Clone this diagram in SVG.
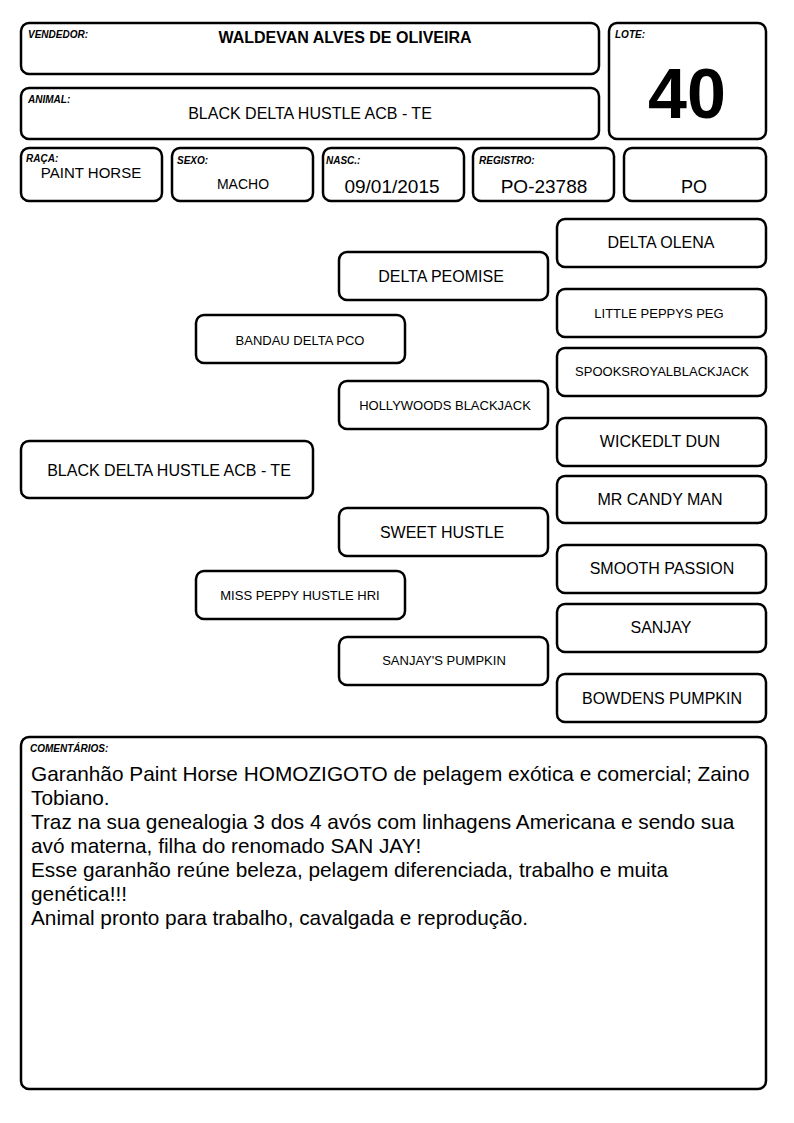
<svg xmlns="http://www.w3.org/2000/svg" width="794" height="1123" viewBox="0 0 794 1123">
<style>
.b{fill:#fff;stroke:#000;stroke-width:2.5}
.lb{font-family:"Liberation Sans",Arial,sans-serif;font-size:10px;font-weight:bold;font-style:italic;fill:#000}
.t{font-family:"Liberation Sans",Arial,sans-serif;fill:#000;text-anchor:middle}
.l{font-size:16px}
.s{font-size:13px}
.c{font-family:"Liberation Sans",Arial,sans-serif;font-size:20.8px;fill:#000}
</style>
<rect width="794" height="1123" fill="#fff"/>
<g id="vendedor"><rect class="b" x="21" y="23" width="578" height="51" rx="8"/><text class="lb" x="28" y="38">VENDEDOR:</text><text class="t" x="345" y="43" font-size="16" font-weight="bold">WALDEVAN ALVES DE OLIVEIRA</text></g>
<g id="lote"><rect class="b" x="609" y="23" width="157" height="116" rx="8"/><text class="lb" x="615" y="38">LOTE:</text><text class="t" x="687" y="118" font-size="70" font-weight="bold">40</text></g>
<g id="animal"><rect class="b" x="21" y="88" width="578" height="51" rx="8"/><text class="lb" x="28" y="103">ANIMAL:</text><text class="t l" x="310" y="119">BLACK DELTA HUSTLE ACB - TE</text></g>
<g id="raca"><rect class="b" x="21" y="148" width="141" height="53" rx="8"/><text class="lb" x="26" y="162">RAÇA:</text><text class="t" x="91" y="178" font-size="15">PAINT HORSE</text></g>
<g id="sexo"><rect class="b" x="172" y="148" width="141" height="53" rx="8"/><text class="lb" x="177" y="164">SEXO:</text><text class="t" x="243" y="189" font-size="14">MACHO</text></g>
<g id="nasc"><rect class="b" x="323" y="148" width="141" height="53" rx="8"/><text class="lb" x="326" y="164">NASC.:</text><text class="t" x="392" y="193" font-size="19">09/01/2015</text></g>
<g id="registro"><rect class="b" x="473" y="148" width="141" height="53" rx="8"/><text class="lb" x="479" y="164">REGISTRO:</text><text class="t" x="544" y="193" font-size="19">PO-23788</text></g>
<g id="po"><rect class="b" x="624" y="148" width="142" height="53" rx="8"/><text class="t" x="694" y="193" font-size="18">PO</text></g>

<g id="p-delta-olena"><rect class="b" x="557" y="219" width="209" height="48" rx="8"/><text class="t l" x="661" y="248">DELTA OLENA</text></g>
<g id="p-little-peppys-peg"><rect class="b" x="557" y="289" width="209" height="48" rx="8"/><text class="t s" x="659" y="318">LITTLE PEPPYS PEG</text></g>
<g id="p-spooks"><rect class="b" x="557" y="348" width="209" height="48" rx="8"/><text class="t s" x="662" y="376">SPOOKSROYALBLACKJACK</text></g>
<g id="p-wickedlt-dun"><rect class="b" x="557" y="418" width="209" height="48" rx="8"/><text class="t l" x="660" y="447">WICKEDLT DUN</text></g>
<g id="p-mr-candy-man"><rect class="b" x="557" y="476" width="209" height="47" rx="8"/><text class="t l" x="660" y="505">MR CANDY MAN</text></g>
<g id="p-smooth-passion"><rect class="b" x="557" y="545" width="209" height="48" rx="8"/><text class="t l" x="662" y="574">SMOOTH PASSION</text></g>
<g id="p-sanjay"><rect class="b" x="557" y="604" width="209" height="48" rx="8"/><text class="t l" x="661" y="633">SANJAY</text></g>
<g id="p-bowdens-pumpkin"><rect class="b" x="557" y="674" width="209" height="48" rx="8"/><text class="t l" x="662" y="704">BOWDENS PUMPKIN</text></g>

<g id="p-delta-peomise"><rect class="b" x="339" y="252" width="209" height="48" rx="8"/><text class="t l" x="441" y="282">DELTA PEOMISE</text></g>
<g id="p-hollywoods-blackjack"><rect class="b" x="339" y="381" width="209" height="48" rx="8"/><text class="t s" x="445" y="410">HOLLYWOODS BLACKJACK</text></g>
<g id="p-sweet-hustle"><rect class="b" x="339" y="508" width="209" height="48" rx="8"/><text class="t l" x="442" y="538">SWEET HUSTLE</text></g>
<g id="p-sanjays-pumpkin"><rect class="b" x="339" y="637" width="209" height="48" rx="8"/><text class="t s" x="444" y="665">SANJAY'S PUMPKIN</text></g>

<g id="p-bandau-delta-pco"><rect class="b" x="196" y="315" width="209" height="48" rx="8"/><text class="t s" x="300" y="345">BANDAU DELTA PCO</text></g>
<g id="p-miss-peppy-hustle-hri"><rect class="b" x="196" y="571" width="209" height="48" rx="8"/><text class="t s" x="300" y="600">MISS PEPPY HUSTLE HRI</text></g>

<g id="p-main"><rect class="b" x="21" y="441" width="292" height="57" rx="8"/><text class="t l" x="169" y="476">BLACK DELTA HUSTLE ACB - TE</text></g>

<g id="connectors"></g>

<g id="comentarios"><rect class="b" x="21" y="737" width="745" height="352" rx="8"/><text class="lb" x="30" y="752">COMENTÁRIOS:</text>
<text class="c" x="31" y="781">Garanhão Paint Horse HOMOZIGOTO de pelagem exótica e comercial; Zaino</text>
<text class="c" x="31" y="805">Tobiano.</text>
<text class="c" x="31" y="829">Traz na sua genealogia 3 dos 4 avós com linhagens Americana e sendo sua</text>
<text class="c" x="31" y="853">avó materna, filha do renomado SAN JAY!</text>
<text class="c" x="31" y="877">Esse garanhão reúne beleza, pelagem diferenciada, trabalho e muita</text>
<text class="c" x="31" y="901">genética!!!</text>
<text class="c" x="31" y="925">Animal pronto para trabalho, cavalgada e reprodução.</text>
</g>
</svg>
